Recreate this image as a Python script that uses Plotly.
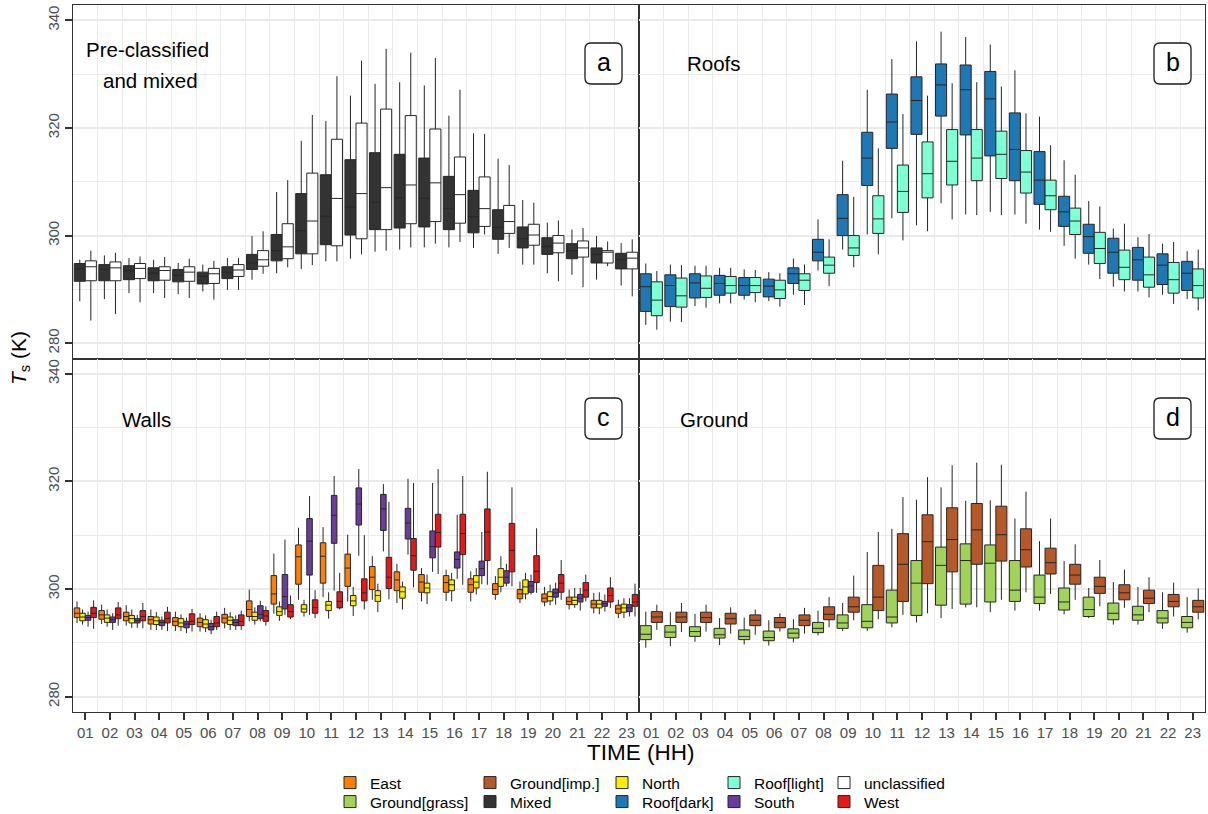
import plotly.graph_objects as go

HOURS = ["01", "02", "03", "04", "05", "06", "07", "08", "09", "10", "11", "12",
         "13", "14", "15", "16", "17", "18", "19", "20", "21", "22", "23"]

# each row per hour: [lower whisker, Q1, median, Q3, upper whisker]  (K)
MIXED = [
    [287.8, 291.5, 293.8, 294.8, 295.5], [288.2, 291.6, 293.7, 294.6, 296.3],
    [289.3, 291.8, 293.5, 294.4, 295.8], [289.3, 291.6, 293.0, 294.0, 295.5],
    [289.1, 291.4, 292.6, 293.7, 294.9], [289.6, 291.0, 292.4, 293.2, 294.6],
    [289.9, 292.0, 293.2, 294.2, 295.8], [291.8, 293.7, 294.9, 296.5, 299.9],
    [293.0, 295.3, 297.2, 300.2, 308.1], [293.8, 296.6, 300.9, 307.8, 317.6],
    [295.2, 298.3, 303.6, 311.3, 321.3], [295.7, 300.1, 305.3, 314.1, 326.0],
    [297.0, 301.1, 306.2, 315.4, 328.2], [297.4, 301.4, 307.0, 315.1, 328.5],
    [297.8, 301.6, 306.9, 314.4, 327.9], [297.8, 301.1, 305.0, 311.0, 322.3],
    [297.7, 300.5, 303.5, 308.4, 319.0], [296.6, 299.3, 301.5, 304.8, 314.3],
    [294.6, 297.7, 299.4, 301.6, 306.6], [293.0, 296.5, 298.0, 299.6, 302.4],
    [292.7, 295.7, 297.2, 298.5, 301.1], [291.8, 294.9, 296.5, 297.7, 299.9],
    [290.7, 293.8, 295.5, 296.7, 298.6]]
UNCLASSIFIED = [
    [284.2, 291.6, 294.2, 295.3, 297.2], [285.4, 291.6, 294.0, 295.1, 296.8],
    [287.6, 292.0, 293.9, 294.8, 296.1], [288.4, 291.7, 293.5, 294.2, 296.0],
    [288.4, 291.5, 293.2, 294.2, 295.7], [288.1, 291.1, 292.9, 293.9, 295.3],
    [289.9, 292.4, 293.6, 294.6, 295.8], [292.9, 294.3, 295.5, 297.2, 300.8],
    [294.1, 295.7, 297.9, 302.2, 310.3], [294.5, 296.6, 302.7, 311.6, 322.4],
    [295.2, 298.1, 306.9, 317.9, 329.6], [296.5, 299.4, 307.8, 320.9, 332.5],
    [297.2, 301.1, 308.9, 323.5, 334.7], [297.8, 302.2, 309.4, 322.3, 334.0],
    [298.5, 302.6, 309.8, 319.8, 333.0], [298.8, 302.3, 307.6, 314.6, 327.1],
    [300.2, 301.7, 305.0, 310.9, 318.9], [297.7, 300.4, 302.6, 305.6, 313.1],
    [294.6, 298.2, 300.1, 302.1, 306.1], [291.5, 296.8, 298.6, 300.0, 302.8],
    [290.4, 296.0, 297.7, 299.0, 301.4], [294.3, 294.9, 296.9, 297.2, 298.9],
    [288.7, 293.8, 295.8, 296.9, 299.3]]
ROOF_DARK = [
    [283.4, 285.9, 290.5, 292.9, 294.8], [284.0, 286.8, 290.7, 292.7, 294.6],
    [286.9, 288.4, 291.2, 292.9, 294.4], [287.4, 288.9, 291.1, 292.6, 294.0],
    [288.1, 288.9, 290.7, 292.2, 293.7], [287.8, 288.6, 290.6, 291.9, 293.2],
    [289.0, 291.1, 292.9, 294.0, 295.7], [293.5, 295.3, 296.9, 299.3, 303.0],
    [297.4, 300.0, 303.2, 307.6, 313.9], [300.2, 309.3, 314.4, 319.2, 327.1],
    [303.2, 316.2, 321.1, 326.3, 332.8], [301.9, 318.8, 325.1, 329.5, 336.1],
    [306.0, 322.2, 328.0, 331.9, 337.9], [303.9, 318.7, 327.1, 331.7, 336.9],
    [304.4, 314.8, 325.4, 330.5, 335.5], [303.9, 310.2, 316.0, 322.8, 330.7],
    [301.1, 305.8, 310.3, 315.6, 322.1], [298.1, 301.7, 304.4, 307.3, 314.0],
    [294.6, 296.7, 299.8, 302.1, 306.4], [290.5, 293.0, 296.9, 299.5, 301.3],
    [289.6, 291.7, 295.5, 297.8, 299.7], [289.0, 290.9, 294.5, 296.6, 298.5],
    [288.2, 289.8, 293.0, 295.2, 297.1]]
ROOF_LIGHT = [
    [282.5, 285.1, 288.0, 291.4, 293.4], [283.9, 286.7, 288.8, 292.1, 294.5],
    [286.6, 288.5, 290.2, 292.5, 294.4], [287.4, 289.3, 290.7, 292.4, 294.0],
    [287.6, 289.4, 290.7, 292.2, 293.6], [286.8, 288.3, 289.9, 291.7, 293.0],
    [287.1, 289.8, 291.7, 292.9, 294.6], [290.6, 293.0, 294.5, 296.0, 299.3],
    [294.1, 296.3, 297.7, 300.0, 307.2], [296.5, 300.4, 303.1, 307.4, 316.2],
    [299.1, 304.3, 308.2, 313.1, 322.6], [300.8, 307.0, 311.5, 317.4, 326.0],
    [303.0, 309.4, 313.8, 319.7, 328.3], [303.8, 310.2, 314.4, 319.7, 328.5],
    [303.8, 310.6, 315.1, 319.4, 327.7], [302.2, 307.9, 311.8, 315.8, 322.7],
    [300.7, 304.8, 307.4, 310.3, 316.8], [295.7, 300.2, 302.7, 305.1, 311.3],
    [291.9, 294.8, 297.6, 300.6, 305.4], [289.6, 291.8, 294.1, 297.3, 302.2],
    [288.5, 290.4, 292.7, 296.0, 300.3], [287.3, 289.3, 291.8, 295.0, 298.8],
    [286.1, 288.4, 290.7, 293.8, 297.4]]
EAST = [
    [293.7, 294.7, 295.5, 296.5, 297.7], [293.5, 294.4, 295.2, 296.0, 297.1],
    [293.2, 294.1, 294.9, 295.7, 297.0], [292.4, 293.5, 294.3, 294.9, 296.2],
    [292.2, 293.2, 294.0, 294.7, 295.8], [292.1, 293.0, 293.8, 294.6, 295.5],
    [292.7, 293.7, 294.6, 295.3, 296.5], [294.0, 294.9, 296.2, 297.8, 299.9],
    [295.4, 297.2, 299.1, 302.5, 306.6], [298.0, 300.9, 306.0, 308.2, 311.4],
    [298.5, 301.1, 306.1, 308.6, 311.5], [297.7, 300.5, 303.9, 306.5, 310.1],
    [298.0, 299.9, 302.2, 304.2, 306.1], [297.4, 299.7, 301.7, 303.2, 304.7],
    [297.7, 299.4, 301.3, 302.7, 303.9], [297.8, 299.4, 301.2, 302.5, 303.6],
    [297.7, 299.4, 300.8, 301.9, 303.3], [298.0, 299.0, 299.9, 301.0, 302.4],
    [297.4, 298.2, 299.1, 299.9, 301.4], [296.8, 297.6, 298.3, 299.1, 300.4],
    [296.2, 297.1, 297.7, 298.5, 299.9], [295.5, 296.5, 297.2, 297.9, 299.3],
    [294.6, 295.5, 296.3, 297.0, 298.0]]
NORTH = [
    [293.4, 294.1, 294.8, 295.5, 296.2], [293.0, 293.8, 294.6, 295.2, 296.2],
    [292.8, 293.7, 294.5, 295.1, 296.2], [292.4, 293.4, 294.1, 294.8, 295.7],
    [292.2, 293.0, 293.7, 294.5, 295.3], [292.0, 292.8, 293.5, 294.3, 295.1],
    [292.4, 293.4, 294.2, 294.8, 295.7], [293.4, 294.2, 294.9, 295.7, 296.6],
    [294.1, 295.1, 295.8, 296.7, 297.7], [294.9, 295.7, 296.3, 297.1, 298.0],
    [294.5, 296.0, 297.0, 297.7, 299.4], [295.0, 296.9, 297.8, 298.8, 300.4],
    [295.7, 297.7, 298.8, 299.7, 301.0], [296.2, 298.3, 299.5, 300.4, 301.4],
    [297.2, 299.3, 300.2, 301.1, 302.7], [297.7, 299.7, 300.8, 301.7, 303.0],
    [299.0, 300.2, 301.3, 302.5, 303.9], [299.4, 300.5, 302.2, 303.8, 306.1],
    [298.1, 299.1, 300.4, 301.7, 303.0], [297.0, 297.8, 298.6, 299.5, 300.8],
    [296.5, 297.1, 297.9, 298.5, 300.2], [295.3, 296.5, 297.2, 297.9, 299.4],
    [294.6, 295.7, 296.5, 297.2, 298.3]]
SOUTH = [
    [293.0, 294.2, 294.7, 295.1, 295.8], [292.4, 293.8, 294.3, 294.8, 295.5],
    [292.8, 293.7, 294.1, 294.5, 295.2], [292.4, 293.2, 293.8, 294.2, 294.9],
    [291.8, 292.8, 293.5, 294.0, 294.7], [291.6, 292.4, 293.0, 293.6, 294.3],
    [292.4, 293.2, 293.8, 294.3, 295.1], [294.0, 294.5, 295.3, 296.9, 297.8],
    [295.2, 296.3, 298.6, 302.7, 309.2], [295.2, 302.6, 308.9, 313.1, 317.3],
    [299.7, 308.5, 313.7, 317.4, 321.0], [306.2, 311.9, 315.8, 318.8, 322.3],
    [307.0, 310.9, 314.9, 317.6, 319.5], [306.4, 309.3, 312.3, 315.0, 320.5],
    [303.2, 305.8, 307.9, 310.8, 319.7], [301.9, 303.9, 305.5, 306.9, 313.8],
    [300.9, 302.5, 303.8, 305.2, 310.6], [300.5, 301.1, 302.2, 303.4, 304.7],
    [299.0, 299.4, 300.6, 301.4, 302.7], [297.1, 298.5, 299.3, 300.0, 301.2],
    [296.0, 297.6, 298.3, 299.0, 300.2], [295.8, 296.8, 297.3, 297.7, 299.0],
    [294.9, 295.8, 296.5, 297.1, 298.3]]
WEST = [
    [292.6, 294.7, 295.5, 296.6, 297.9], [293.2, 294.5, 295.2, 296.5, 297.6],
    [292.7, 294.1, 294.9, 296.0, 297.4], [292.2, 293.7, 294.5, 295.7, 296.7],
    [292.1, 293.4, 294.0, 295.4, 296.3], [292.4, 293.0, 293.7, 294.9, 295.8],
    [292.4, 293.2, 294.0, 295.2, 296.0], [293.2, 294.0, 295.0, 296.0, 296.8],
    [294.4, 294.8, 295.8, 297.1, 298.8], [294.6, 295.5, 296.6, 298.0, 299.8],
    [296.2, 296.5, 297.7, 299.5, 303.0], [296.2, 297.8, 299.3, 301.9, 310.0],
    [298.1, 300.1, 302.2, 305.9, 316.2], [300.3, 303.5, 306.2, 309.4, 319.7],
    [302.8, 307.8, 310.5, 313.9, 322.3], [300.8, 306.4, 310.3, 313.9, 321.0],
    [300.8, 305.3, 310.6, 314.9, 321.8], [300.5, 303.2, 307.2, 312.2, 318.9],
    [299.3, 301.2, 303.3, 306.2, 311.3], [298.0, 299.4, 301.1, 302.7, 305.4],
    [297.7, 298.5, 299.8, 301.2, 302.7], [296.5, 297.6, 298.8, 300.2, 302.2],
    [294.9, 296.8, 297.6, 299.0, 301.0]]
GROUND_GRASS = [
    [289.1, 290.6, 291.6, 293.2, 295.8], [289.4, 291.0, 292.0, 293.2, 295.7],
    [290.2, 291.2, 292.1, 293.0, 295.4], [289.6, 290.9, 291.5, 292.7, 294.6],
    [289.7, 290.6, 291.2, 292.4, 294.7], [289.5, 290.4, 291.0, 292.2, 294.2],
    [290.1, 290.9, 291.8, 292.6, 294.4], [291.4, 291.9, 292.7, 293.8, 296.0],
    [292.2, 292.7, 293.7, 295.2, 297.4], [292.2, 292.8, 294.0, 297.1, 306.9],
    [292.9, 293.7, 294.8, 299.8, 311.2], [293.8, 295.1, 301.1, 305.3, 316.6],
    [294.6, 297.0, 304.4, 307.8, 318.9], [296.6, 297.2, 305.3, 308.4, 316.4],
    [295.7, 297.6, 304.8, 308.2, 316.5], [296.0, 297.7, 299.8, 305.3, 313.1],
    [296.0, 297.3, 298.5, 302.6, 308.9], [295.3, 296.1, 297.6, 300.2, 305.2],
    [294.6, 294.9, 296.2, 298.5, 300.2], [293.4, 294.3, 295.5, 297.4, 301.3],
    [293.4, 294.2, 295.2, 296.8, 300.4], [292.6, 293.7, 294.6, 296.0, 299.4],
    [291.9, 292.8, 293.8, 294.9, 298.5]]
GROUND_IMP = [
    [292.4, 293.8, 294.8, 295.8, 297.1], [292.0, 293.8, 294.8, 295.7, 297.4],
    [292.1, 293.8, 294.7, 295.7, 297.1], [291.7, 293.5, 294.5, 295.5, 296.6],
    [291.5, 293.2, 294.2, 295.2, 296.2], [292.1, 292.8, 293.8, 294.7, 295.5],
    [291.7, 293.2, 294.2, 295.2, 296.5], [292.9, 294.3, 295.3, 296.7, 298.5],
    [294.2, 295.7, 296.7, 298.5, 302.5], [294.4, 296.0, 298.5, 304.4, 310.6],
    [295.2, 297.7, 304.6, 310.3, 317.1], [295.5, 301.0, 308.8, 313.8, 320.8],
    [296.3, 303.2, 309.2, 315.1, 323.0], [296.6, 304.6, 311.0, 315.9, 323.5],
    [298.0, 305.2, 310.1, 315.4, 323.1], [299.4, 304.1, 307.3, 311.2, 318.1],
    [299.1, 302.8, 304.9, 307.6, 313.1], [298.0, 300.9, 302.6, 304.6, 308.3],
    [296.8, 299.2, 300.5, 302.2, 305.4], [296.5, 298.0, 299.3, 300.8, 303.6],
    [295.7, 297.3, 298.3, 299.8, 302.2], [294.9, 296.7, 297.7, 299.0, 301.2],
    [294.4, 295.7, 296.7, 297.9, 300.1]]

Y_TICKS = [280, 300, 320, 340]
Y_MINOR = [290, 310, 330]

# (name, data, fill colour, panel, legend column, legend row)
SERIES = [
    ("Mixed", MIXED, "#333333", "a", 1, 1),
    ("unclassified", UNCLASSIFIED, "#FFFFFF", "a", 4, 0),
    ("Roof[dark]", ROOF_DARK, "#1F78B4", "b", 2, 1),
    ("Roof[light]", ROOF_LIGHT, "#7FFFD4", "b", 3, 0),
    ("East", EAST, "#FF7F00", "c", 0, 0),
    ("North", NORTH, "#FFED00", "c", 2, 0),
    ("South", SOUTH, "#6A3D9A", "c", 3, 1),
    ("West", WEST, "#E31A1C", "c", 4, 1),
    ("Ground[grass]", GROUND_GRASS, "#A1D25A", "d", 0, 1),
    ("Ground[imp.]", GROUND_IMP, "#B5592A", "d", 1, 0),
]
PANEL_AXES = {"a": ("x", "y"), "b": ("x2", "y2"), "c": ("x3", "y3"), "d": ("x4", "y4")}

LINE = "#333333"
GRID = "#EBEBEB"
FONT = "Liberation Sans, Arial, sans-serif"

L, R, T, B = 73, 3, 5, 102
W, H = 1208, 814
PW, PH = W - L - R, H - T - B


def px(x):
    return (x - L) / PW


def py(y):
    return 1 - (y - T) / PH


LEGEND_COL_LEFT = [330, 470, 602, 714, 824]
LEGEND_ROW_Y = [783, 802]

xpos = list(range(1, len(HOURS) + 1))
fig = go.Figure()
legends = {}
for i, (name, data, color, panel, col, row) in enumerate(SERIES):
    xa, ya = PANEL_AXES[panel]
    lo, q1, med, q3, hi = [list(c) for c in zip(*data)]
    key = "legend" if i == 0 else f"legend{i + 1}"
    legends[key] = dict(orientation="v", xanchor="left", yanchor="middle",
                        x=px(LEGEND_COL_LEFT[col]), y=py(LEGEND_ROW_Y[row]),
                        bgcolor="rgba(0,0,0,0)", itemwidth=30, itemclick=False,
                        font=dict(size=15.5, color="black", family=FONT))
    fig.add_trace(go.Box(
        x=xpos, lowerfence=lo, q1=q1, median=med, q3=q3, upperfence=hi,
        name=name, fillcolor=color, line=dict(color="#262626", width=1),
        whiskerwidth=0, boxpoints=False, xaxis=xa, yaxis=ya,
        alignmentgroup=panel, offsetgroup=name,
        legend=key, showlegend=True, hoverinfo="skip"))


def xaxis(domain, anchor, labels):
    return dict(domain=domain, anchor=anchor, range=[0.5, len(HOURS) + 0.5],
                tickmode="array", tickvals=xpos, ticktext=HOURS,
                showticklabels=labels, ticks="outside" if labels else "",
                ticklen=7, tickwidth=1.5, tickcolor=LINE,
                tickfont=dict(size=15, color="#4D4D4D"),
                showgrid=False, zeroline=False, showline=True, mirror=True,
                linecolor=LINE, linewidth=1.3,
                minor=dict(tickmode="array", tickvals=[p + 0.5 for p in xpos[:-1]],
                           showgrid=True, gridcolor=GRID, gridwidth=1, ticks=""))


def yaxis(domain, anchor, labels):
    return dict(domain=domain, anchor=anchor, range=[277.15, 342.85],
                tickmode="array", tickvals=Y_TICKS,
                showticklabels=labels, ticks="outside" if labels else "",
                ticklen=7, tickwidth=1.5, tickcolor=LINE, tickangle=-90,
                tickfont=dict(size=15, color="#4D4D4D"),
                showgrid=True, gridcolor=GRID, gridwidth=1.6, zeroline=False,
                showline=True, mirror=True, linecolor=LINE, linewidth=1.3,
                minor=dict(tickmode="array", tickvals=Y_MINOR, showgrid=True,
                           gridcolor=GRID, gridwidth=0.9, ticks=""))


def rounded(x0, y0, x1, y1, r=6):
    rx, ry = r / PW, r / PH
    X0, X1, Y0, Y1 = px(x0), px(x1), py(y1), py(y0)
    return (f"M{X0+rx},{Y0} L{X1-rx},{Y0} Q{X1},{Y0} {X1},{Y0+ry} "
            f"L{X1},{Y1-ry} Q{X1},{Y1} {X1-rx},{Y1} L{X0+rx},{Y1} "
            f"Q{X0},{Y1} {X0},{Y1-ry} L{X0},{Y0+ry} Q{X0},{Y0} {X0+rx},{Y0} Z")


def note(text, x, y, size, **kw):
    return dict(text=text, x=px(x), y=py(y), xref="paper", yref="paper",
                xanchor="center", yanchor="middle", showarrow=False,
                font=dict(size=size, color="black", family=FONT), **kw)


shapes = []
annotations = []
for letter, (x0, y0) in {"a": (585, 43), "b": (1154, 43), "c": (585, 398), "d": (1154, 398)}.items():
    shapes.append(dict(type="path", xref="paper", yref="paper",
                       path=rounded(x0, y0, x0 + 37, y0 + 41),
                       line=dict(color="#1a1a1a", width=1.3), fillcolor="white"))
    annotations.append(note(letter, x0 + 18.5, y0 + 19, 25))

for txt, x, y in [("Pre-classified", 147, 49), ("and mixed", 150, 80),
                  ("Roofs", 714, 64), ("Walls", 146, 419), ("Ground", 714, 419)]:
    annotations.append(note(txt, x, y, 20.5))

annotations.append(note("TIME (HH)", 640, 753, 22.5))
annotations.append(note("<i>T</i><sub>s</sub> (K)", 20, 358, 21, textangle=-90))

fig.update_layout(
    width=W, height=H, margin=dict(l=L, r=R, t=T, b=B, autoexpand=False),
    paper_bgcolor="white", plot_bgcolor="white",
    font=dict(family=FONT),
    boxmode="group", boxgap=0.1, boxgroupgap=0,
    xaxis=xaxis([0, 0.5], "y", False), yaxis=yaxis([0.5, 1], "x", True),
    xaxis2=xaxis([0.5, 1], "y2", False), yaxis2=yaxis([0.5, 1], "x2", False),
    xaxis3=xaxis([0, 0.5], "y3", True), yaxis3=yaxis([0, 0.5], "x3", True),
    xaxis4=xaxis([0.5, 1], "y4", True), yaxis4=yaxis([0, 0.5], "x4", False),
    shapes=shapes, annotations=annotations, **legends)

fig.write_html("out.html", config={"displayModeBar": False},
               post_script="document.body.style.margin='0';document.body.style.padding='0';"
                           "document.body.style.overflow='hidden';")
